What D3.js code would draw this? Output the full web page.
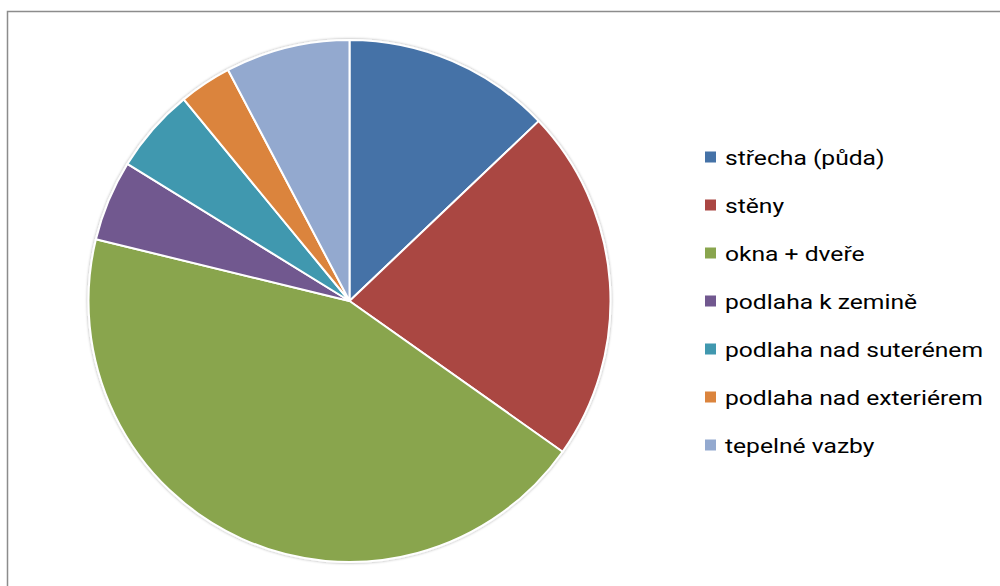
<!DOCTYPE html>
<html>
<head>
<meta charset="utf-8">
<script src="https://cdn.jsdelivr.net/npm/d3@7"></script>
<style>
  body { margin: 0; background: #fff; }
  .legendText { font-family: Roboto, "Noto Sans", sans-serif; fill: #000; }
</style>
</head>
<body>
<div id="chart"></div>
<script>
// data (percent shares)
var categories = ["střecha (půda)", "stěny", "okna + dveře", "podlaha k zemině",
  "podlaha nad suterénem", "podlaha nad exteriérem", "tepelné vazby"];
var values = [12.9, 21.9, 44.0, 5.0, 5.25, 3.25, 7.7];
var colors = ["#4572A7", "#AA4643", "#89A54E", "#71588F", "#4198AF", "#DB843D", "#93A9CF"];

var svgWidth = 1000;
var svgHeight = 586;

var svg = d3.select("#chart")
  .append("svg")
  .attr("width", svgWidth)
  .attr("height", svgHeight);

// chart frame (runs off the right and bottom)
svg.append("rect")
  .attr("x", 7.5)
  .attr("y", 11.5)
  .attr("width", 1100)
  .attr("height", 700)
  .attr("fill", "none")
  .attr("stroke", "#8c8c8c")
  .attr("stroke-width", 1.5);

var defs = svg.append("defs");
var shadow = defs.append("filter").attr("id", "shade")
  .attr("x", "-10%").attr("y", "-10%").attr("width", "120%").attr("height", "120%");
shadow.append("feGaussianBlur").attr("in", "SourceAlpha").attr("stdDeviation", 1.5);
shadow.append("feOffset").attr("dx", 0).attr("dy", 0).attr("result", "blur");
shadow.append("feComponentTransfer").append("feFuncA").attr("type", "linear").attr("slope", 0.35);
var merge = shadow.append("feMerge");
merge.append("feMergeNode");
merge.append("feMergeNode").attr("in", "SourceGraphic");

var radius = 261;
var pieGroup = svg.append("g")
  .attr("transform", "translate(349.5, 301)")
  .attr("filter", "url(#shade)");

var pie = d3.pie().sort(null).value(d => d);
var arc = d3.arc().innerRadius(0).outerRadius(radius);

pieGroup.selectAll("path")
  .data(pie(values))
  .enter()
  .append("path")
  .attr("d", arc)
  .attr("fill", (d, i) => colors[i])
  .attr("stroke", "#fff")
  .attr("stroke-width", 2)
  .attr("stroke-linejoin", "round");

// legend
var legend = svg.append("g").attr("transform", "translate(705, 0)");
var rowY = d3.scalePoint().domain(d3.range(categories.length)).range([157, 445]);

var rows = legend.selectAll("g")
  .data(categories)
  .enter()
  .append("g")
  .attr("transform", (d, i) => `translate(0, ${rowY(i)})`);

rows.append("rect")
  .attr("x", 0)
  .attr("y", -5.5)
  .attr("width", 11)
  .attr("height", 11)
  .attr("fill", (d, i) => colors[i]);

var labels = rows.append("text")
  .attr("class", "legendText")
  .attr("x", 20)
  .attr("dy", "0.36em")
  .style("font-size", "21px")
  .text(d => d);

// scale text horizontally so the longest label matches its width in the picture
var longest = labels.filter((d, i) => i === 5).node().getComputedTextLength();
var sx = 258 / longest;
labels.attr("transform", `translate(20, 0) scale(${sx}, 1) translate(-20, 0)`);
</script>
</body>
</html>
